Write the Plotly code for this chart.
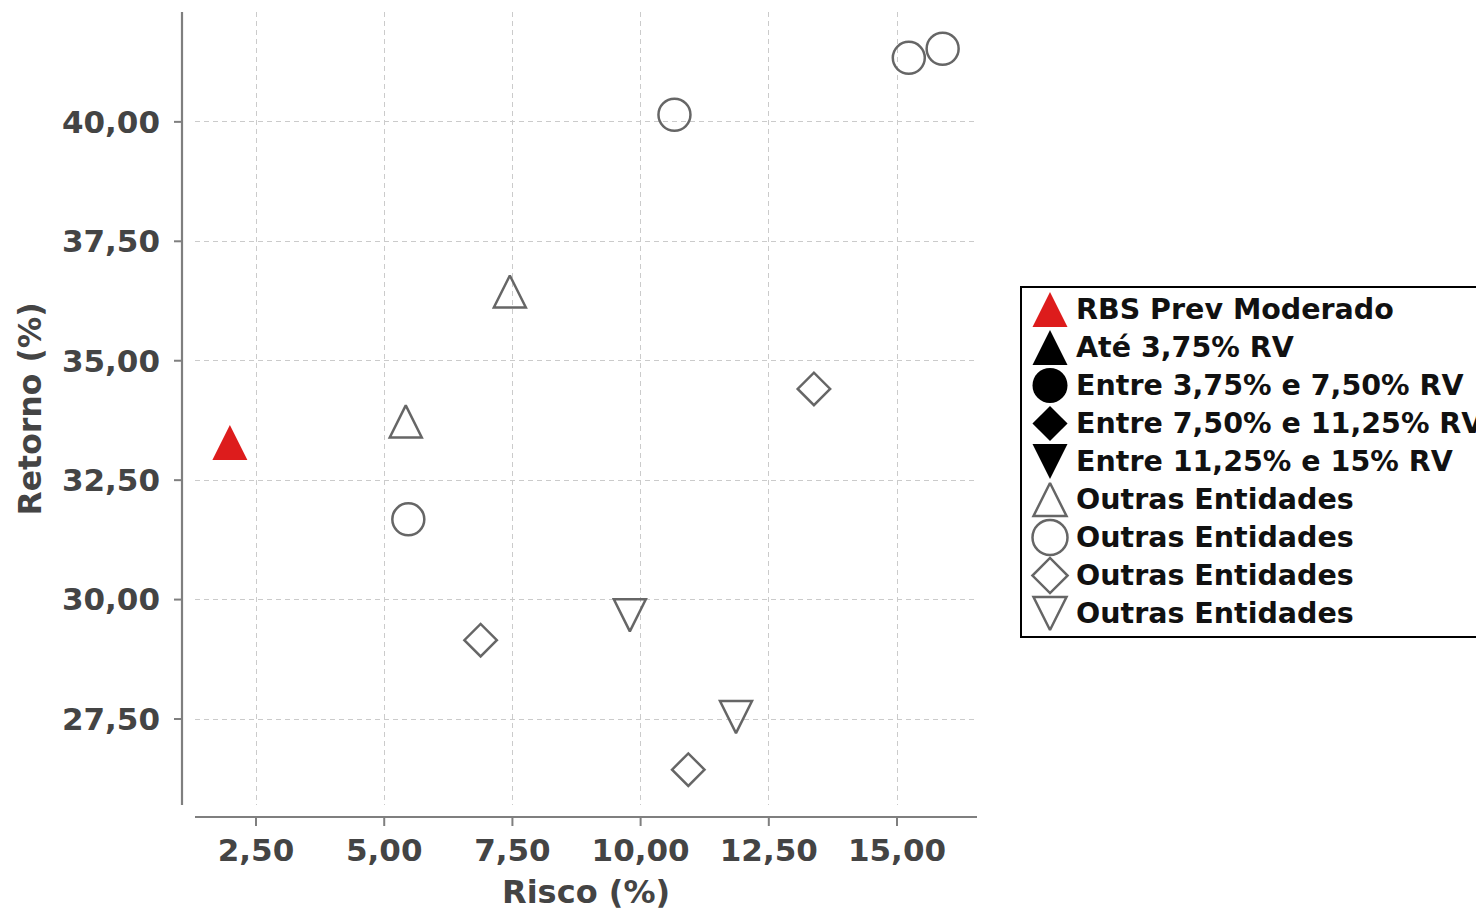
import plotly.graph_objects as go

# ---------------- data ----------------
RBS_X = [1.99]
RBS_Y = [33.29]

TRI_UP_X = [5.42, 7.45]
TRI_UP_Y = [33.73, 36.45]

CIRC_X = [5.47, 10.66, 15.23, 15.89]
CIRC_Y = [31.68, 40.15, 41.34, 41.53]

DIAM_X = [6.88, 10.93, 13.38]
DIAM_Y = [29.15, 26.44, 34.41]

TRI_DN_X = [9.79, 11.86]
TRI_DN_Y = [29.67, 27.54]

X_TICKS = [2.5, 5.0, 7.5, 10.0, 12.5, 15.0]
Y_TICKS = [27.5, 30.0, 32.5, 35.0, 37.5, 40.0]

X_TITLE = "Risco (%)"
Y_TITLE = "Retorno (%)"

LEGEND_LABELS = [
    "RBS Prev Moderado",
    "Até 3,75% RV",
    "Entre 3,75% e 7,50% RV",
    "Entre 7,50% e 11,25% RV",
    "Entre 11,25% e 15% RV",
    "Outras Entidades",
    "Outras Entidades",
    "Outras Entidades",
    "Outras Entidades",
]

# ---------------- styling ----------------
OFF = 8                      # page body margin of the html page
W, H = 1484 - OFF, 913 - OFF
RED = "#dd1c1c"
GRAY = "#666666"
TXT = "#444444"
FONT = "DejaVu Sans"


def px(x):
    """screen pixel x -> paper fraction"""
    return (x - OFF) / W


def py(y):
    """screen pixel y -> paper fraction"""
    return (H - (y - OFF)) / H


def tri(kind, size):
    """isosceles triangle (width == height) centred on the point, like matplotlib's ^ / v"""
    return dict(symbol=kind, size=size, standoff=size / 2)


# plot area in screen pixels
PL, PR, PT, PB = 195, 977, 12, 805

fig = go.Figure()

open_line = dict(width=2.5)
fig.add_trace(go.Scatter(x=TRI_UP_X, y=TRI_UP_Y, mode="markers", hoverinfo="skip",
                         marker=dict(**tri("arrow-down-open", 32), angle=180, color=GRAY, line=open_line)))
fig.add_trace(go.Scatter(x=CIRC_X, y=CIRC_Y, mode="markers", hoverinfo="skip",
                         marker=dict(symbol="circle-open", size=32, color=GRAY, line=open_line)))
fig.add_trace(go.Scatter(x=DIAM_X, y=DIAM_Y, mode="markers", hoverinfo="skip",
                         marker=dict(symbol="diamond-open", size=25, color=GRAY, line=open_line)))
fig.add_trace(go.Scatter(x=TRI_DN_X, y=TRI_DN_Y, mode="markers", hoverinfo="skip",
                         marker=dict(**tri("arrow-down-open", 32), angle=0, color=GRAY, line=open_line)))
fig.add_trace(go.Scatter(x=RBS_X, y=RBS_Y, mode="markers", hoverinfo="skip",
                         marker=dict(**tri("arrow-down", 35), angle=180, color=RED, line=dict(width=0))))

# ---------------- custom legend (large symbols) ----------------
leg_symbols = ["arrow-down", "arrow-down", "circle", "diamond", "arrow-down",
               "arrow-down-open", "circle-open", "diamond-open", "arrow-down-open"]
leg_angles = [180, 180, 0, 0, 0, 180, 0, 0, 0]
leg_colors = [RED, "#000000", "#000000", "#000000", "#000000", GRAY, GRAY, GRAY, GRAY]
leg_sizes = [35, 35, 35, 27, 35, 33, 35, 27, 33]
leg_standoff = [17.5, 17.5, 0, 0, 17.5, 16.5, 0, 0, 16.5]
leg_lw = [0, 0, 0, 0, 0, 2.5, 2.5, 2.5, 2.5]
rows = list(range(len(LEGEND_LABELS)))
fig.add_trace(go.Scatter(
    x=[0] * len(rows), y=rows, xaxis="x2", yaxis="y2", mode="markers", hoverinfo="skip",
    marker=dict(symbol=leg_symbols, color=leg_colors, size=leg_sizes, opacity=1,
                angle=leg_angles, standoff=leg_standoff,
                line=dict(width=leg_lw, color=leg_colors)),
))

annotations = []
for i, lab in enumerate(LEGEND_LABELS):
    annotations.append(dict(
        x=24, y=i, xref="x2", yref="y2", text=lab, showarrow=False,
        xanchor="left", yanchor="middle",
        font=dict(family=FONT, size=28.5, color="#111111", weight="bold"),
    ))

# axis titles
annotations.append(dict(
    x=px((PL + PR) / 2), y=py(912), xref="paper", yref="paper", text=X_TITLE,
    showarrow=False, xanchor="center", yanchor="bottom", borderpad=0,
    font=dict(family=FONT, size=32, color=TXT, weight="bold"),
))
annotations.append(dict(
    x=px(29.5), y=py(409), xref="paper", yref="paper", text=Y_TITLE, textangle=-90,
    showarrow=False, xanchor="center", yanchor="middle",
    font=dict(family=FONT, size=31.5, color=TXT, weight="bold"),
))

# ---------------- shapes: offset spines, ticks, legend box ----------------
SPINE = "#7f7f7f"
shapes = [
    dict(type="line", xref="paper", yref="paper", x0=px(182), x1=px(182), y0=py(PB), y1=py(PT),
         line=dict(color=SPINE, width=2.2)),
    dict(type="line", xref="paper", yref="paper", x0=px(PL), x1=px(PR), y0=py(817), y1=py(817),
         line=dict(color=SPINE, width=2.2)),
    dict(type="rect", xref="paper", yref="paper", x0=px(1021), x1=px(1500), y0=py(637), y1=py(287),
         line=dict(color="#000000", width=2), fillcolor="rgba(0,0,0,0)", layer="below"),
]
for v in X_TICKS:
    shapes.append(dict(type="line", xref="x", yref="paper", x0=v, x1=v, y0=py(817), y1=py(826),
                       line=dict(color=SPINE, width=2)))
for v in Y_TICKS:
    shapes.append(dict(type="line", xref="paper", yref="y", x0=px(174), x1=px(182), y0=v, y1=v,
                       line=dict(color=SPINE, width=2)))

tickfont = dict(family=FONT, size=31, color=TXT, weight="bold")
grid = dict(showgrid=True, gridcolor="#cbcbcb", gridwidth=1.3, griddash="5px,4px",
            zeroline=False, showline=False, ticks="", tickformat=".2f", tickfont=tickfont)

fig.update_layout(
    width=W, height=H,
    margin=dict(l=0, r=0, t=0, b=0),
    paper_bgcolor="white", plot_bgcolor="white",
    separators=",.",
    showlegend=False,
    font=dict(family=FONT),
    xaxis=dict(domain=[px(PL), px(PR)], range=[1.31, 16.56], tickvals=X_TICKS,
               ticklabelstandoff=24, anchor="y", **grid),
    yaxis=dict(domain=[py(PB), py(PT)], range=[25.70, 42.30], tickvals=Y_TICKS,
               ticklabelstandoff=34, anchor="x", **grid),
    xaxis2=dict(domain=[px(1020), 1.0], range=[-30, 434], visible=False, anchor="y2",
                fixedrange=True),
    yaxis2=dict(domain=[py(637), py(286)], range=[8.618, -0.618], visible=False, anchor="x2",
                fixedrange=True),
    shapes=shapes,
    annotations=annotations,
)

fig.write_html("out.html")
